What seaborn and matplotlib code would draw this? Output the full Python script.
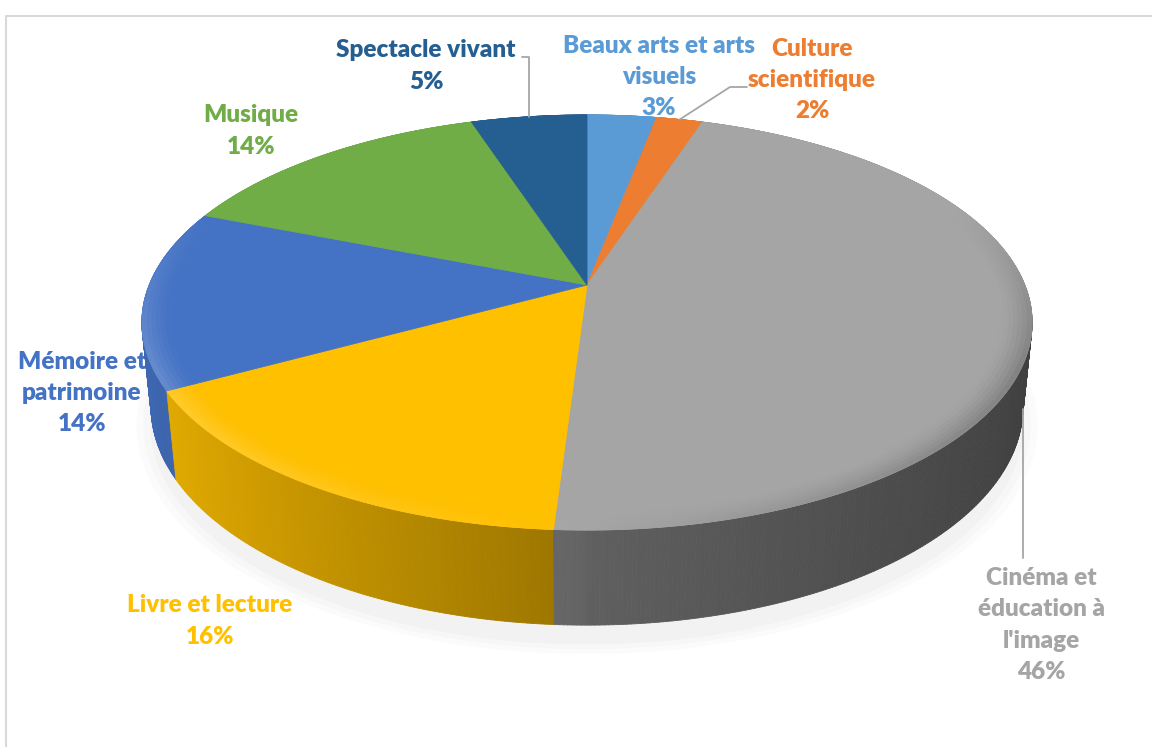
import numpy as np
import seaborn as sns
import matplotlib
matplotlib.use("Agg")
import matplotlib.pyplot as plt
from matplotlib.collections import PolyCollection
from matplotlib.colors import to_rgb

# %% datos

categorias = ["Beaux arts et arts\nvisuels", "Culture\nscientifique",
              "Cinéma et\néducation à\nl'image", "Livre et lecture",
              "Mémoire et\npatrimoine", "Musique", "Spectacle vivant"]
valores = [3, 2, 46, 16, 14, 14, 5]
colores = ["#5B9BD5", "#ED7D31", "#A5A5A5", "#FFC000", "#4472C4", "#70AD47", "#255E91"]

# %% estilo

sns.set_style("white")
plt.rcParams['font.family'] = ['Lato', 'DejaVu Sans']

# geometria del pastel 3D (en pixeles)
CX, CY = 587, 285
alpha = np.radians(27.3)
s, c = np.sin(alpha), np.cos(alpha)
F, D, H = 2153, 4.918, 0.218


def proj(u, v, z):
    yc = v * s + z * c
    depth = D + v * c - z * s
    return CX + F * u / depth, CY - F * yc / depth


def punto(theta, r=1.0, z=0.0):
    return proj(r * np.sin(theta), r * np.cos(theta), z)


def sombreado(u):
    # luz desde la izquierda
    return 0.60 - 0.32 * u if u < 0 else 0.58 - 0.20 * u


fig = plt.figure(figsize=(11.52, 7.47), dpi=100)
ax = fig.add_axes([0, 0, 1, 1])
ax.set_xlim(0, 1152)
ax.set_ylim(747, 0)
ax.axis('off')

# marco del grafico
ax.plot([5.5, 5.5, 1152], [747, 15.5, 15.5], color='#D9D9D9', lw=1.5, zorder=0)

total = sum(valores)
bordes = np.concatenate([[0], np.cumsum(valores)]) / total * 2 * np.pi

# sombra suave
t = np.linspace(0, 2 * np.pi, 200)
for k, a in zip([1.035, 1.02, 1.005], [0.025, 0.03, 0.035]):
    pts = [punto(tt, k, -H - 0.03) for tt in t]
    ax.fill([p[0] for p in pts], [p[1] + 5 for p in pts], color='#7F7F7F', alpha=a, lw=0, zorder=1)

# caras laterales
tiras, cols, prof = [], [], []
for i in range(len(valores)):
    a0, a1 = bordes[i], bordes[i + 1]
    n = max(2, int(np.degrees(a1 - a0) / 0.5))
    t = np.linspace(a0, a1, n + 1)
    base = np.array(to_rgb(colores[i]))
    for j in range(n):
        ta, tb = t[j], t[j + 1]
        quad = [punto(ta), punto(tb), punto(tb, z=-H), punto(ta, z=-H)]
        tiras.append(quad)
        cols.append(np.clip(base * sombreado(np.sin((ta + tb) / 2)), 0, 1))
        prof.append(np.cos((ta + tb) / 2))
orden = np.argsort(prof)[::-1]
ax.add_collection(PolyCollection([tiras[o] for o in orden], facecolors=[cols[o] for o in orden],
                                 edgecolors=[cols[o] for o in orden], linewidths=0.6, zorder=3))

# cara superior con bisel suave en el borde
radios = np.linspace(0.93, 1.0, 8)
for i in range(len(valores)):
    t = np.linspace(bordes[i], bordes[i + 1], 200)
    pts = [proj(0, 0, 0)] + [punto(tt) for tt in t]
    ax.fill([p[0] for p in pts], [p[1] for p in pts], color=colores[i], lw=0.6, zorder=4)
    base = np.array(to_rgb(colores[i]))
    bisel, bcols = [], []
    for r0, r1 in zip(radios[:-1], radios[1:]):
        f = ((r0 + r1) / 2 - radios[0]) / (1 - radios[0])
        for j in range(len(t) - 1):
            tm = (t[j] + t[j + 1]) / 2
            um, vm = np.sin(tm), np.cos(tm)
            w = np.clip((0.4 - vm) / 0.8, 0, 1) * f ** 1.5
            if um > 0:
                col = base * (1 - 0.25 * um * w)
            else:
                col = base + (1 - base) * 0.22 * (-um) * w
            q = [punto(t[j], r0), punto(t[j + 1], r0), punto(t[j + 1], r1), punto(t[j], r1)]
            bisel.append(q)
            bcols.append(np.clip(col, 0, 1))
    ax.add_collection(PolyCollection(bisel, facecolors=bcols, edgecolors=bcols, linewidths=0.5, zorder=5))

# %% etiquetas

pos_etiquetas = [(659, 77), (812, 80), (1041, 625), (210, 621), (82, 393), (251, 131), (426, 66)]
for i, (x, y) in enumerate(pos_etiquetas):
    ax.text(x, y, f"{categorias[i]}\n{valores[i]}%", color=colores[i], fontsize=17.5,
            fontweight='heavy', ha='center', va='center', linespacing=1.52, zorder=2)

# lineas guia
gris = '#A6A6A6'
mid = (bordes[:-1] + bordes[1:]) / 2
x6, y6 = punto(mid[6])
ax.plot([522, x6, x6], [57, 57, y6], color=gris, lw=1.3, zorder=6)
x1, y1 = punto(mid[1])
ax.plot([x1, 730, 747], [y1, 87, 87], color=gris, lw=1.3, zorder=6)
x2, y2 = punto(mid[2], z=-H)
ax.plot([x2, x2], [y2, 558], color=gris, lw=1.3, zorder=6)

fig.savefig("out.png", dpi=100)
